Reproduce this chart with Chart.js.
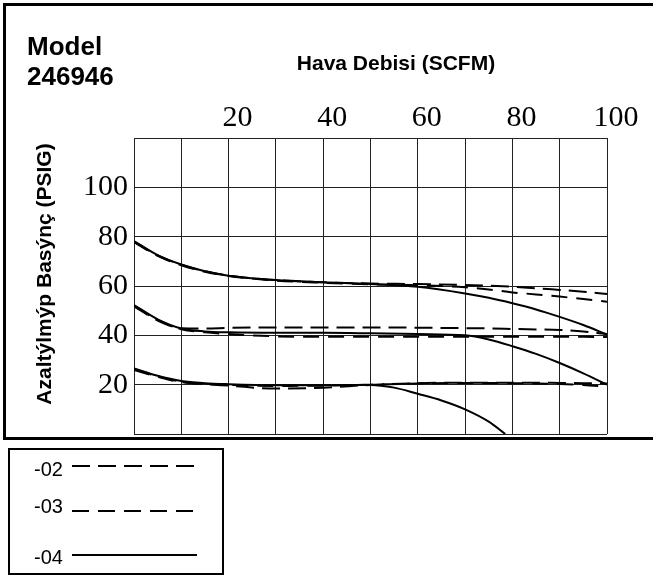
<!DOCTYPE html>
<html>
<head>
<meta charset="utf-8">
<script src="https://cdn.jsdelivr.net/npm/chart.js@4.4.1/dist/chart.umd.min.js"></script>
<style>
  body { margin: 0; width: 653px; height: 576px; overflow: hidden; background: #fff; position: relative; font-family: 'Liberation Sans', Arial, sans-serif; }
  #chart { position: absolute; left: 0; top: 0; }
  .frame { position: absolute; left: 3px; top: 3px; width: 700px; height: 431px; border: 3px solid #000; pointer-events: none; }
  .model { position: absolute; left: 27px; top: 31px; font-weight: bold; font-size: 26px; line-height: 30px; color: #000; }
  .xtitle { position: absolute; left: 396px; top: 63px; transform: translate(-50%, -50%); font-weight: bold; font-size: 21px; white-space: nowrap; }
  .ytitle { position: absolute; left: 44px; top: 274px; transform: translate(-50%, -50%) rotate(-90deg); font-weight: bold; font-size: 21px; white-space: nowrap; }
  #legend { position: absolute; left: 0; top: 440px; }
</style>
</head>
<body>
<canvas id="chart" width="653" height="440"></canvas>
<div class="frame"></div>
<div class="model">Model<br>246946</div>
<div class="xtitle">Hava Debisi (SCFM)</div>
<div class="ytitle">Azaltýlmýp Basýnç (PSIG)</div>
<svg id="legend" width="653" height="136">
  <rect x="9" y="9" width="214" height="125" fill="none" stroke="#000" stroke-width="2"/>
  <text x="34" y="36" font-family="Liberation Sans" font-size="20">-02</text>
  <line x1="72" y1="26" x2="197" y2="26" stroke="#000" stroke-width="2" stroke-dasharray="18 8"/>
  <text x="34" y="73" font-family="Liberation Sans" font-size="20">-03</text>
  <line x1="72" y1="71" x2="197" y2="71" stroke="#000" stroke-width="2" stroke-dasharray="17 9"/>
  <text x="34" y="124" font-family="Liberation Sans" font-size="20">-04</text>
  <line x1="72" y1="115" x2="197" y2="115" stroke="#000" stroke-width="2"/>
</svg>
<script>
// Hava debisi (SCFM)
const flow = [0, 5, 10, 15, 20, 30, 40, 50, 60, 70, 75, 80, 85, 90, 95, 100];

// 80 psig ayar
const top02 = [78.0, 72.4, 68.6, 66.0, 64.2, 62.4, 61.5, 61.0, 60.8, 60.4, 60.1, 59.7, 59.1, 58.4, 57.7, 56.8];
const top03 = [77.8, 72.2, 68.4, 65.8, 64.1, 62.2, 61.3, 60.7, 60.3, 59.5, 58.6, 57.4, 56.6, 55.7, 54.7, 53.6];
const top04 = [78.2, 72.5, 68.7, 66.0, 64.2, 62.4, 61.5, 60.8, 59.7, 57.0, 55.2, 53.0, 50.5, 47.5, 44.2, 40.3];

// 52 psig ayar
const mid02 = [52.0, 46.3, 42.9, 42.8, 43.0, 43.2, 43.2, 43.2, 43.1, 42.9, 42.8, 42.6, 42.4, 42.2, 41.6, 40.5];
const mid03 = [51.8, 46.0, 42.5, 41.2, 40.5, 39.6, 39.4, 39.4, 39.4, 39.4, 39.4, 39.4, 39.4, 39.4, 39.4, 39.3];
const mid04 = [52.3, 46.5, 42.8, 41.6, 41.2, 41.0, 41.0, 40.8, 40.5, 40.0, 38.3, 35.6, 32.5, 28.8, 24.6, 20.0];

// 27 psig ayar
const bot02 = [26.3, 23.4, 21.2, 20.2, 19.6, 18.4, 18.8, 19.9, 20.6, 20.8, 20.8, 20.8, 20.8, 20.7, 20.6, 20.5];
const bot03 = [26.0, 23.2, 21.0, 20.3, 19.9, 19.5, 19.6, 20.0, 20.5, 20.7, 20.7, 20.6, 20.5, 20.3, 19.9, 19.2];
const botFlow04 = [0, 5, 10, 15, 20, 30, 40, 50, 55, 60, 65, 70, 75, 78.5];
const bot04 = [26.6, 23.6, 21.5, 20.6, 20.2, 19.8, 19.8, 19.9, 18.8, 16.3, 13.6, 10.0, 5.0, 0];

const dash02 = [18, 8];
const dash03 = [16, 9];

function series(xs, ys, dash) {
  return {
    data: xs.map((x, i) => ({ x: x, y: ys[i] })),
    borderColor: '#000',
    borderWidth: 2,
    borderDash: dash,
    pointRadius: 0,
    fill: false,
    cubicInterpolationMode: 'monotone',
  };
}

const gridColor = '#222';
const tickFont = { family: 'Liberation Serif', size: 30 };

new Chart(document.getElementById('chart'), {
  type: 'line',
  data: {
    datasets: [
      series(flow, top02, dash02),
      series(flow, top03, dash03),
      series(flow, top04, []),
      series(flow, mid02, dash02),
      series(flow, mid03, dash03),
      series(flow, mid04, []),
      series(flow, bot02, dash02),
      series(flow, bot03, dash03),
      series(botFlow04, bot04, []),
    ],
  },
  options: {
    responsive: false,
    animation: false,
    layout: { padding: { left: 0, right: 46, top: 0, bottom: 6 } },
    plugins: {
      legend: { display: false },
      tooltip: { enabled: false },
    },
    scales: {
      x: {
        type: 'linear',
        position: 'top',
        min: 0,
        max: 100,
        ticks: {
          stepSize: 10,
          autoSkip: false,
          maxRotation: 0,
          padding: 2,
          labelOffset: 9,
          color: '#000',
          font: tickFont,
          callback: v => (v > 0 && v % 20 === 0) ? v : '',
        },
        grid: { color: gridColor, lineWidth: 1, drawTicks: false },
        border: { color: gridColor },
        afterFit: s => { s.height = 138; s.paddingLeft = 0; s.paddingRight = 0; },
      },
      y: {
        min: 0,
        max: 120,
        ticks: {
          stepSize: 20,
          padding: 6,
          color: '#000',
          font: tickFont,
          callback: v => (v > 0 && v < 120) ? v : '',
        },
        grid: { color: gridColor, lineWidth: 1, drawTicks: false },
        border: { color: gridColor },
        afterFit: s => { s.width = 134; s.paddingTop = 0; s.paddingBottom = 0; },
      },
    },
  },
});
</script>
</body>
</html>
